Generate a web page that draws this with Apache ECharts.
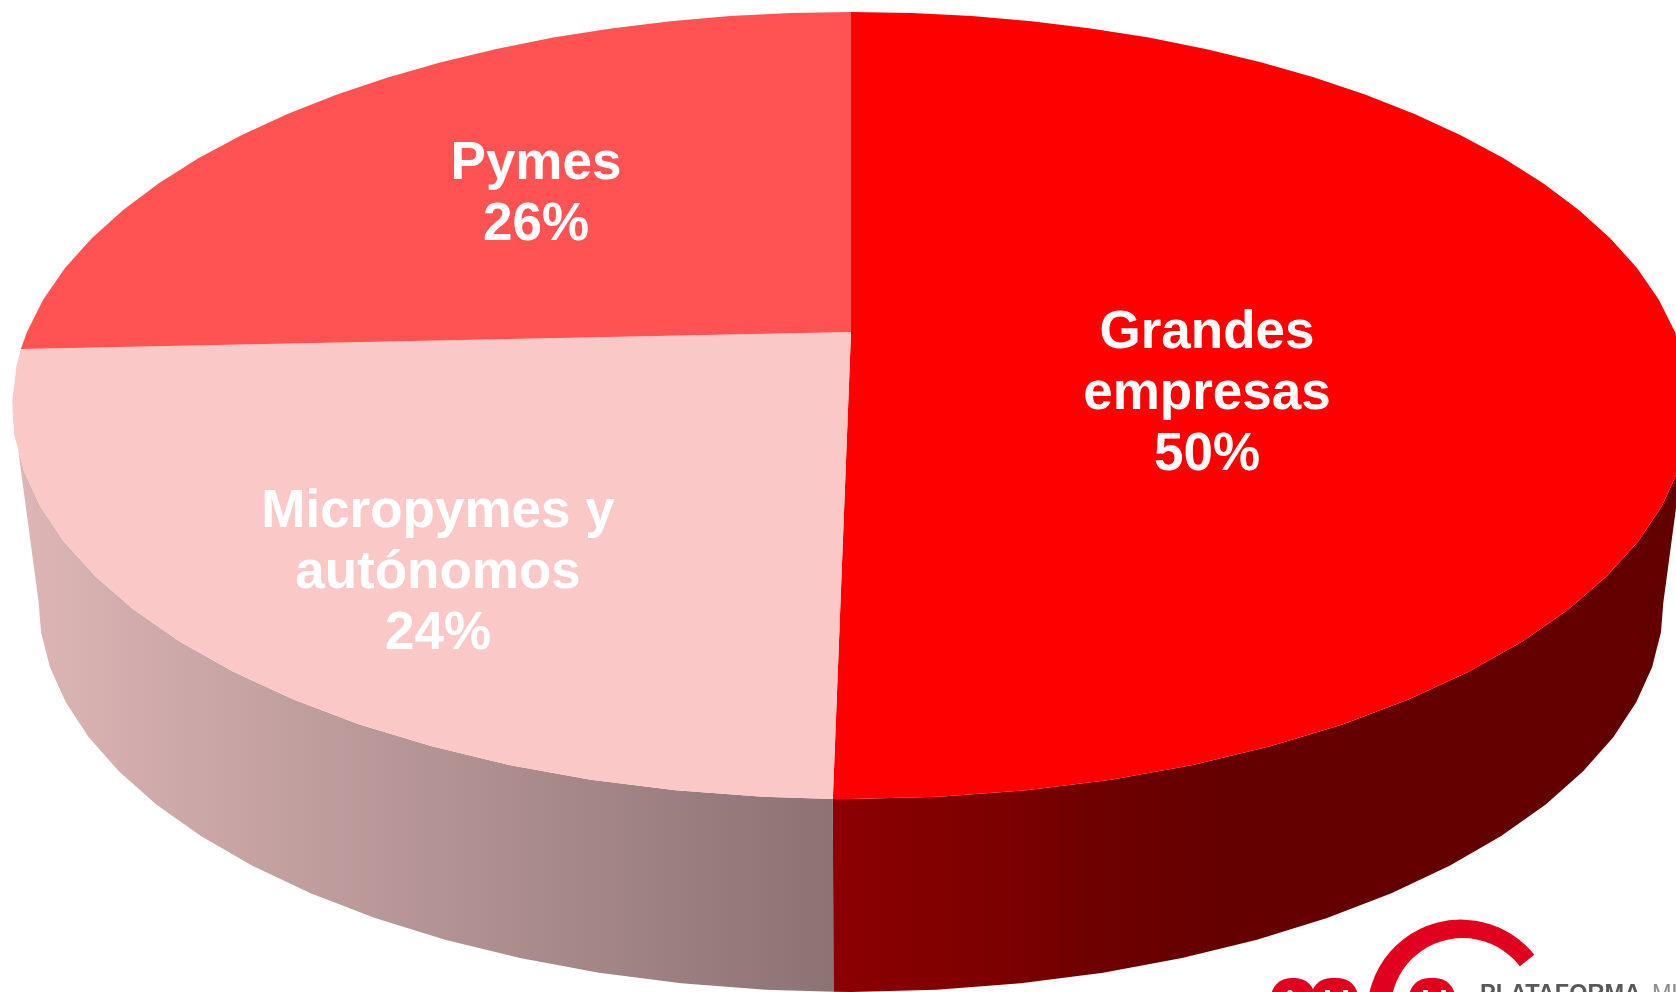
<!DOCTYPE html>
<html>
<head>
<meta charset="utf-8">
<title>Pie</title>
<style>
  html, body { margin: 0; padding: 0; background: #fff; overflow: hidden; }
  #chart { width: 1676px; height: 992px; }
</style>
<script src="https://cdn.jsdelivr.net/npm/echarts@6/dist/echarts.min.js"></script>
</head>
<body>
<div id="chart"></div>
<script>
// clockwise from the top of the pie
const names = ["Grandes\nempresas", "Micropymes y\nautónomos", "Pymes"];
const values = [50.27, 24, 25.7];

const topColors = ["#fe0000", "#fbc8c8", "#ff5252"];
const labelPos = [[1207, 394.5], [438, 573], [536, 194.5]];
const FONT = "bold 53px 'Liberation Sans', Arial, sans-serif";

// the disc is a circle seen in perspective, k is the perspective strength
const k = 0.1868;
const upper = { x0: 851, y0: 332, a: 824, b: 379.8 };
const lower = { x0: 851, y0: 530, a: 798, b: 375.6 };
const FACET = 360 / 72;

function project(disc, deg) {
  const t = (deg * Math.PI) / 180;
  const u = Math.sin(t);
  const v = -Math.cos(t);
  const w = 1 - k * v;
  return [disc.x0 + (disc.a * u) / w, disc.y0 + (disc.b * v) / w];
}

function arc(disc, from, to) {
  const pts = [project(disc, from)];
  let d = (Math.floor(from / FACET) + 1) * FACET;
  while (d < to) {
    pts.push(project(disc, d));
    d += FACET;
  }
  pts.push(project(disc, to));
  return pts;
}

const total = values.reduce((a, b) => a + b, 0);
const spans = [];
let acc = 0;
for (const v of values) {
  const from = (acc / total) * 360;
  acc += v;
  spans.push([from, (acc / total) * 360]);
}

// the wall only shows on the front of the disc
const FRONT_FROM = (Math.acos(-k) * 180) / Math.PI;
const FRONT_TO = 360 - FRONT_FROM;

const sideFills = [
  {
    type: "linear", x: 834, y: 0, x2: 1676, y2: 0, global: true,
    colorStops: [
      { offset: 0, color: "#8c0000" },
      { offset: 0.197, color: "#7c0000" },
      { offset: 0.316, color: "#6e0000" },
      { offset: 0.47, color: "#640000" },
      { offset: 1, color: "#620000" },
    ],
  },
  {
    type: "linear", x: 12, y: 0, x2: 834, y2: 0, global: true,
    colorStops: [
      { offset: 0, color: "#deb6b6" },
      { offset: 1, color: "#8c7273" },
    ],
  },
  "#a03030",
];

function renderSide(params) {
  const i = params.dataIndex;
  const from = Math.max(spans[i][0], FRONT_FROM);
  const to = Math.min(spans[i][1], FRONT_TO);
  if (from >= to) return { type: "group", children: [] };
  const pts = arc(upper, from, to).concat(arc(lower, from, to).reverse());
  return { type: "polygon", shape: { points: pts }, style: { fill: sideFills[i] } };
}

function renderTop(params) {
  const i = params.dataIndex;
  const pts = [[upper.x0, upper.y0]].concat(arc(upper, spans[i][0], spans[i][1]));
  return { type: "polygon", shape: { points: pts }, style: { fill: topColors[i] } };
}

function renderLabel(params) {
  const i = params.dataIndex;
  return {
    type: "text",
    style: {
      text: names[i] + "\n" + Math.round(values[i]) + "%",
      x: labelPos[i][0],
      y: labelPos[i][1],
      fill: "#fff",
      font: FONT,
      lineHeight: 61,
      align: "center",
      verticalAlign: "middle",
    },
  };
}

const RED = "#e2001f";
const logo = [
  {
    type: "sector",
    shape: {
      cx: 1461, cy: 1013.6, r: 94, r0: 0,
      startAngle: (165 * Math.PI) / 180,
      endAngle: (321.2 * Math.PI) / 180,
      clockwise: true,
    },
    style: { fill: RED },
  },
  { type: "circle", shape: { cx: 1462.6, cy: 1010, r: 72 }, style: { fill: "#fff" } },
  { type: "rect", shape: { x: 1271, y: 978, width: 44, height: 30, r: [20, 20, 0, 0] }, style: { fill: RED } },
  { type: "rect", shape: { x: 1311, y: 978, width: 47, height: 30, r: [20, 20, 0, 0] }, style: { fill: RED } },
  { type: "rect", shape: { x: 1409, y: 978, width: 46, height: 30, r: [20, 20, 0, 0] }, style: { fill: RED } },
  { type: "rect", shape: { x: 1287, y: 990, width: 6, height: 8, r: 3 }, style: { fill: "#fff" } },
  { type: "rect", shape: { x: 1325, y: 990, width: 5, height: 8 }, style: { fill: "#fff" } },
  { type: "rect", shape: { x: 1343, y: 990, width: 5, height: 8 }, style: { fill: "#fff" } },
  { type: "rect", shape: { x: 1423, y: 990, width: 5, height: 8 }, style: { fill: "#fff" } },
  { type: "rect", shape: { x: 1441, y: 990, width: 5, height: 8 }, style: { fill: "#fff" } },
  {
    type: "text",
    style: {
      text: "PLATAFORMA", x: 1480, y: 983, fill: "#58585a",
      font: "bold 23.5px 'Liberation Sans', Arial, sans-serif",
      verticalAlign: "top",
    },
  },
  {
    type: "text",
    style: {
      text: "MU", x: 1652, y: 983, fill: "#8a8a8c",
      font: "23.5px 'Liberation Sans', Arial, sans-serif",
      verticalAlign: "top",
    },
  },
];

const seriesData = names.map((n, i) => ({ name: n, value: values[i] }));

const chart = echarts.init(document.getElementById("chart"), null, { renderer: "canvas" });
chart.setOption({
  backgroundColor: "#fff",
  animation: false,
  graphic: { elements: logo },
  series: [
    { type: "custom", coordinateSystem: "none", z: 1, silent: true, renderItem: renderSide, data: seriesData },
    { type: "custom", coordinateSystem: "none", z: 2, silent: true, renderItem: renderTop, data: seriesData },
    { type: "custom", coordinateSystem: "none", z: 3, silent: true, renderItem: renderLabel, data: seriesData },
  ],
});
</script>
</body>
</html>
